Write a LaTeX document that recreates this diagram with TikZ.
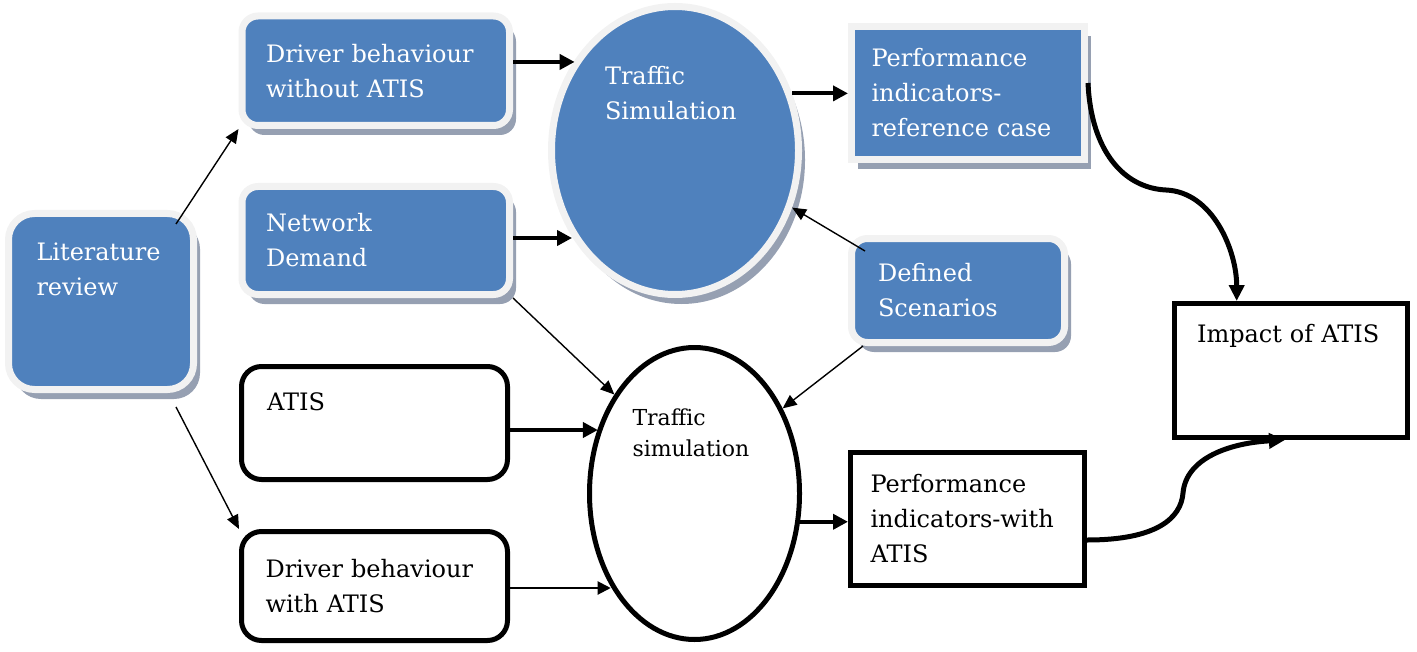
\documentclass[tikz,border=0pt]{standalone}
\usepackage{fontspec}
\setmainfont{DejaVu Serif}
\usepackage{xcolor}
\usepackage{tikz}
\usetikzlibrary{shapes.geometric}
\usetikzlibrary{shadows}
\usetikzlibrary{arrows.meta}
\definecolor{boxblue}{RGB}{79,129,189}
\definecolor{boxrim}{RGB}{242,242,242}
\definecolor{shadowgray}{RGB}{150,160,178}

\begin{document}
\begin{tikzpicture}[x=0.5pt,y=-0.5pt,
	bluebox/.style={draw=boxrim,line width=3.5pt,fill=boxblue,text=white,align=left,
		font=\fontsize{12}{17.5}\selectfont,
		drop shadow={shadow xshift=3.25pt,shadow yshift=-4.75pt,fill=shadowgray,opacity=1}},
	blackbox/.style={draw=black,line width=2.5pt,fill=white,text=black,align=left,
		font=\fontsize{12}{17.5}\selectfont},
	thickarrow/.style={line width=2pt,-{Triangle[length=7.5pt,width=7.5pt]}},
	thinarrow/.style={line width=0.7pt,-{Triangle[length=7pt,width=6pt]}},
	medarrow/.style={line width=1pt,-{Triangle[length=6.5pt,width=6.5pt]}},
	curvearrow/.style={line width=2.5pt,-{Triangle[length=8pt,width=7.5pt]}}]
					\useasboundingbox (0,0) rectangle (1417,652);
					\node[bluebox,rounded corners=13pt,minimum width=92.5pt,minimum height=88pt,text width=64.5pt,inner xsep=14pt,inner ysep=0pt,text height=23.25pt,text depth=64.75pt] (lit) at (101,301.5) {Literature\\review};
					\node[bluebox,rounded corners=8pt,minimum width=133.75pt,minimum height=54.75pt,text width=109.75pt,inner xsep=12pt] (dw) at (375.75,70.75) {Driver behaviour\\without ATIS};
					\node[bluebox,rounded corners=8pt,minimum width=133.75pt,minimum height=54pt,text width=109.75pt,inner xsep=12pt] (nd) at (375.75,240.5) {Network\\Demand};
					\node[bluebox,ellipse,minimum width=123.5pt,minimum height=144pt,text width=70pt,inner sep=0pt,text height=17.25pt,text depth=82.75pt] (ts) at (675,150.5) {Traffic\\Simulation};
					\node[bluebox,minimum width=116.5pt,minimum height=66.5pt,text width=96.5pt,inner xsep=10pt] (pr) at (968,93) {Performance\\indicators-\\reference case};
					\node[bluebox,rounded corners=8pt,minimum width=106.5pt,minimum height=52pt,text width=80pt,inner xsep=13.25pt] (ds) at (958,290.5) {Defined\\Scenarios};
					\node[blackbox,minimum width=116.5pt,minimum height=67pt,text width=94pt,inner xsep=11.25pt,inner ysep=0pt,text height=19.25pt,text depth=47.75pt] (imp) at (1291,370.5) {Impact of ATIS};
					\node[blackbox,rounded corners=10pt,minimum width=133pt,minimum height=56.5pt,text width=107.5pt,inner xsep=12.75pt,inner ysep=0pt,text height=21.75pt,text depth=34.75pt] (atis) at (374.5,423) {ATIS};
					\node[blackbox,rounded corners=10pt,minimum width=133pt,minimum height=54.5pt,text width=109pt,inner xsep=12pt] (dwa) at (374.5,586) {Driver behaviour\\with ATIS};
					\node[blackbox,ellipse,minimum width=105pt,minimum height=146pt,text width=62pt,inner sep=0pt,text height=15.75pt,text depth=84.25pt,font=\fontsize{11}{15.5}\selectfont] (tsa) at (694.5,493.5) {Traffic\\simulation};
					\node[blackbox,minimum width=117pt,minimum height=66.5pt,text width=97pt,inner xsep=10pt] (pa) at (967.5,519) {Performance\\indicators-with\\ATIS};
					\draw[thinarrow] ([xshift=-10.5pt,yshift=-7pt]lit.north east) -- (dw.south west);
					\draw[thinarrow] ([xshift=-10.5pt,yshift=-7pt]lit.south east) -- (dwa.north west);
					\draw[thickarrow] ([yshift=4.4pt]dw.east) -- ([yshift=4.4pt]dw.east -| ts.138.9);
					\draw[thickarrow] ([yshift=1.25pt]nd.east) -- ([yshift=1.25pt]nd.east -| ts.220.6);
					\draw[thickarrow] (ts.26.6) -- (ts.26.6 -| pr.west);
					\draw[thinarrow] ([xshift=8.5pt,yshift=-8pt]ds.north west) -- (ts.334);
					\draw[thinarrow] (nd.south east) -- (tsa.129.8);
					\draw[thinarrow] ([xshift=7.5pt]ds.south west) -- (tsa.44.4);
					\draw[thickarrow] ([yshift=-3.5pt]atis.east) -- ([yshift=-3.5pt]atis.east -| tsa.146.8);
					\draw[medarrow] ([yshift=-1pt]dwa.east) -- ([yshift=-1pt]dwa.east -| tsa.228.7);
					\draw[thickarrow] (tsa.345.9) -- (tsa.345.9 -| pa.west);
					\draw[curvearrow] ([yshift=5pt]pr.east) .. controls +(3,67) and +(-43,-2) .. ++(78,107) .. controls +(47,2) and +(0,-50) .. (imp.128);
					\draw[curvearrow] ([yshift=-10.5pt]pa.east) .. controls +(70,0) and +(-2,25) .. ++(96,-47) .. controls +(3,-35) and +(-55,3) .. (imp.265);
				\end{tikzpicture}
\end{document}
